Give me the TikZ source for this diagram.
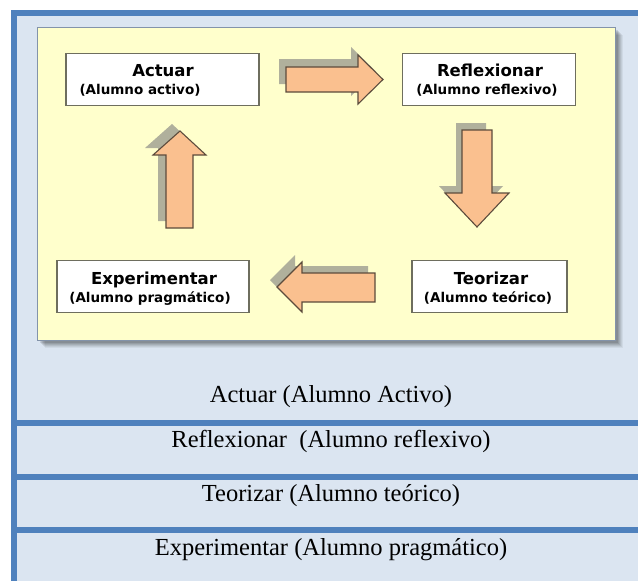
\documentclass[tikz,border=0pt]{standalone}
\usepackage{fontspec}
\setmainfont{Liberation Serif}
\newfontfamily\boxfont{DejaVu Sans}
\definecolor{frameblue}{HTML}{4F81BD}
\definecolor{cellfill}{HTML}{DBE5F1}
\definecolor{panelfill}{HTML}{FFFFCC}
\definecolor{paneldraw}{HTML}{8393AA}
\definecolor{arrowfill}{HTML}{FAC08F}
\definecolor{arrowdraw}{HTML}{5C4B3C}
\definecolor{arrowshade}{HTML}{B0B09C}
\definecolor{boxdraw}{HTML}{6E6E5E}
\tikzset{
  stagebox/.style={draw=boxdraw, line width=1.4pt, fill=white, inner sep=0pt},
  titletext/.style={anchor=base, inner sep=0pt, font=\boxfont\bfseries\fontsize{16.5}{18}\selectfont},
  subtext/.style={anchor=base, inner sep=0pt, font=\boxfont\bfseries\fontsize{13.5}{15}\selectfont},
  rowtext/.style={anchor=base, inner sep=0pt, font=\fontsize{24.5}{28}\selectfont},
  blockarrow/.style={fill=arrowfill, draw=arrowdraw, line width=1.1pt, line join=miter},
  arrowshadow/.style={fill=arrowshade, draw=none},
}
\begin{document}
\begin{tikzpicture}[x=1pt,y=-1pt]
\useasboundingbox (0,0) rectangle (638,581);
\fill[white] (0,0) rectangle (638,581);
% table cell background
\fill[cellfill] (17,16) rectangle (638,581);
% table borders
\fill[frameblue] (11,10) rectangle (638,16);
\fill[frameblue] (11,10) rectangle (17,581);
\fill[frameblue] (17,420) rectangle (638,426);
\fill[frameblue] (17,474) rectangle (638,480);
\fill[frameblue] (17,527) rectangle (638,533);
% panel shadow
\foreach \o/\op in {8/0.05,7/0.06,6/0.07,5/0.08,4/0.09,3/0.1}
  \fill[black, opacity=\op] (37+\o,27+\o) rectangle (615+\o,340+\o);
% panel
\draw[fill=panelfill, draw=paneldraw, line width=1pt] (37,27) rectangle (615,340);
% arrow shadows
\fill[arrowshadow] (279,59) -- (351,59) -- (351,47) -- (376,71.5) -- (351,96) -- (351,84) -- (279,84) -- cycle;
\fill[arrowshadow] (456,123) -- (486,123) -- (486,186) -- (503,186) -- (471,220) -- (439,186) -- (456,186) -- cycle;
\fill[arrowshadow] (368,266) -- (295,266) -- (295,255) -- (270,280) -- (295,305) -- (295,295) -- (368,295) -- cycle;
\fill[arrowshadow] (158,221) -- (185,221) -- (185,148) -- (198,148) -- (172,124) -- (145,148) -- (158,148) -- cycle;
% block arrows
\draw[blockarrow] (286,67) -- (358,67) -- (358,55) -- (383,79.5) -- (358,104) -- (358,92) -- (286,92) -- cycle;
\draw[blockarrow] (462,130) -- (492,130) -- (492,193) -- (509,193) -- (477,227) -- (445,193) -- (462,193) -- cycle;
\draw[blockarrow] (375,273) -- (302,273) -- (302,262) -- (277,287) -- (302,312) -- (302,302) -- (375,302) -- cycle;
\draw[blockarrow] (166,228) -- (193,228) -- (193,155) -- (206,155) -- (180,131) -- (153,155) -- (166,155) -- cycle;
% stage boxes
\node[stagebox, minimum width=193pt, minimum height=52pt] (actuar) at (162.5,79.5) {};
\node[stagebox, minimum width=173pt, minimum height=52pt] (reflex) at (489,79.5) {};
\node[stagebox, minimum width=155pt, minimum height=52pt] (teor) at (489.5,286.5) {};
\node[stagebox, minimum width=192pt, minimum height=52pt] (exper) at (153,286.5) {};
\node[titletext] (actuarT) at (163,76) {Actuar};
\node[subtext] (actuarS) at (140,94) {(Alumno activo)};
\node[titletext] (reflexT) at (490,76) {Reflexionar};
\node[subtext] (reflexS) at (487,94) {(Alumno reflexivo)};
\node[titletext] (teorT) at (491,284) {Teorizar};
\node[subtext] (teorS) at (488,302) {(Alumno teórico)};
\node[titletext] (experT) at (154,284) {Experimentar};
\node[subtext] (experS) at (150,302) {(Alumno pragmático)};
% table rows text
\node[rowtext] (row1) at (331,402) {Actuar (Alumno Activo)};
\node[rowtext] (row2) at (331,447) {Reflexionar\ \ (Alumno reflexivo)};
\node[rowtext] (row3) at (331,501.5) {Teorizar (Alumno teórico)};
\node[rowtext] (row4) at (331,555) {Experimentar (Alumno pragmático)};
\end{tikzpicture}
\end{document}
